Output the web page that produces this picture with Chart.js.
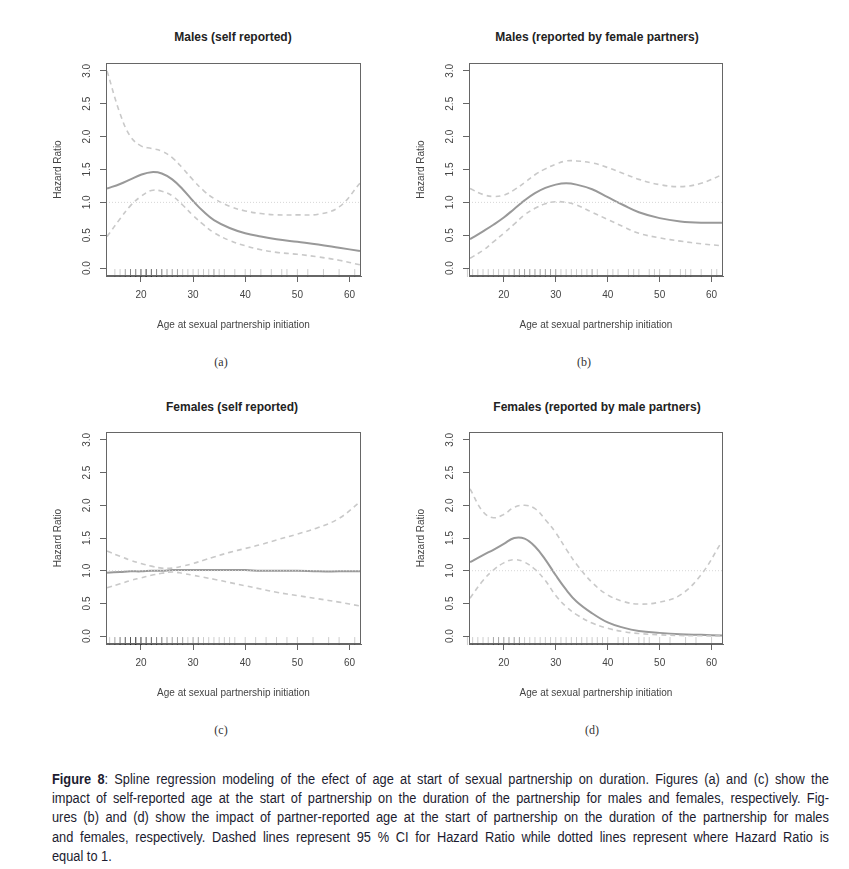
<!DOCTYPE html>
<html>
<head>
<meta charset="utf-8">
<script src="https://cdn.jsdelivr.net/npm/chart.js@4.4.1/dist/chart.umd.min.js"></script>
<style>
  body { margin: 0; background: #fff; width: 849px; height: 869px; position: relative; overflow: hidden; }
  canvas { position: absolute; }
  .ptitle { position: absolute; font: bold 12px "Liberation Sans", Arial, sans-serif; color: #222; transform: translate(-50%, -50%); white-space: nowrap; }
  .sub { position: absolute; font: 12px "Liberation Serif", "DejaVu Serif", serif; color: #333; transform: translate(-50%, -50%); }
  .caption { position: absolute; left: 52px; top: 770px; width: 850px; font: 14px "Liberation Sans", Arial, sans-serif; color: #1c1c30; line-height: 19.2px; transform: scaleX(0.914); transform-origin: 0 0; }
  .caption div { text-align: justify; text-align-last: justify; white-space: nowrap; }
  .caption div.last { text-align-last: left; }
</style>
</head>
<body>

<canvas id="graficoA"></canvas>
<canvas id="graficoB"></canvas>
<canvas id="graficoC"></canvas>
<canvas id="graficoD"></canvas>

<div class="ptitle" style="left:233px;top:37px">Males (self reported)</div>
<div class="ptitle" style="left:597px;top:37px">Males (reported by female partners)</div>
<div class="ptitle" style="left:232px;top:407px">Females (self reported)</div>
<div class="ptitle" style="left:597px;top:407px">Females (reported by male partners)</div>

<div class="sub" style="left:221px;top:362px">(a)</div>
<div class="sub" style="left:584px;top:362px">(b)</div>
<div class="sub" style="left:221px;top:730px">(c)</div>
<div class="sub" style="left:592px;top:730px">(d)</div>

<div class="caption">
  <div><b>Figure 8</b>: Spline regression modeling of the efect of age at start of sexual partnership on duration. Figures (a) and (c) show the</div>
  <div>impact of self-reported age at the start of partnership on the duration of the partnership for males and females, respectively. Fig-</div>
  <div>ures (b) and (d) show the impact of partner-reported age at the start of partnership on the duration of the partnership for males</div>
  <div>and females, respectively. Dashed lines represent 95 % CI for Hazard Ratio while dotted lines represent where Hazard Ratio is</div>
  <div class="last">equal to 1.</div>
</div>

<script>
// Idades (eixo x) comuns às quatro curvas
const idades = [13.5, 16, 18, 20, 22, 24, 26, 28, 30, 32, 34, 37, 40, 43, 46, 50, 54, 58, 62];
const xTicks = [20, 30, 40, 50, 60];
const yTicks = [0, 0.5, 1, 1.5, 2, 2.5, 3];
const nivelReferencia = 1;

// (a) Homens, auto-relato
const hrA    = [1.21, 1.28, 1.35, 1.42, 1.46, 1.44, 1.35, 1.20, 1.02, 0.86, 0.73, 0.61, 0.53, 0.48, 0.44, 0.40, 0.36, 0.31, 0.26];
const supA   = [3.00, 2.35, 2.00, 1.86, 1.82, 1.78, 1.68, 1.52, 1.34, 1.18, 1.06, 0.94, 0.87, 0.83, 0.81, 0.81, 0.82, 0.93, 1.29];
const infA   = [0.48, 0.75, 0.95, 1.09, 1.18, 1.17, 1.10, 0.96, 0.80, 0.66, 0.54, 0.42, 0.34, 0.28, 0.24, 0.21, 0.17, 0.12, 0.05];
const rugA   = [15,16,17,17,18,18,18,19,19,19,20,20,20,20,21,21,21,21,21,22,22,22,22,23,23,23,24,24,24,25,25,26,26,27,27,28,29,30,31,32,33,34,34,35,36,38,40,41,43,45,47,48,50,52,55,58,61];

// (b) Homens, relato das parceiras
const hrB    = [0.44, 0.56, 0.66, 0.77, 0.90, 1.03, 1.14, 1.22, 1.27, 1.29, 1.27, 1.20, 1.08, 0.96, 0.85, 0.76, 0.71, 0.69, 0.69];
const supB   = [1.21, 1.12, 1.09, 1.11, 1.19, 1.30, 1.42, 1.51, 1.58, 1.63, 1.63, 1.60, 1.53, 1.44, 1.35, 1.27, 1.24, 1.29, 1.42];
const infB   = [0.15, 0.27, 0.40, 0.53, 0.67, 0.81, 0.91, 0.98, 1.01, 1.00, 0.96, 0.85, 0.74, 0.63, 0.53, 0.46, 0.41, 0.37, 0.34];
const rugB   = [13,14,15,16,17,18,19,20,21,22,22,23,23,24,24,25,25,26,26,27,27,28,28,29,29,30,30,31,32,33,34,35,36,37,37,38,40,41,42,44,45,46,48,49,50,52,54,55,56,58,60,61];

// (c) Mulheres, auto-relato
const hrC    = [0.97, 0.98, 0.99, 0.99, 1.00, 1.00, 1.01, 1.01, 1.01, 1.01, 1.01, 1.01, 1.01, 1.00, 1.00, 1.00, 0.99, 0.99, 0.99];
const supC   = [1.30, 1.22, 1.16, 1.11, 1.07, 1.04, 1.04, 1.07, 1.11, 1.16, 1.21, 1.28, 1.34, 1.40, 1.47, 1.56, 1.66, 1.80, 2.05];
const infC   = [0.74, 0.80, 0.85, 0.89, 0.93, 0.96, 0.98, 0.96, 0.93, 0.90, 0.87, 0.82, 0.77, 0.72, 0.67, 0.62, 0.57, 0.52, 0.46];
const rugC   = [14,15,15,16,16,16,17,17,17,17,18,18,18,18,18,19,19,19,19,19,19,20,20,20,20,20,21,21,21,21,22,22,22,22,23,23,23,24,24,24,25,25,26,26,27,27,28,28,29,30,30,31,31,32,33,34,35,36,37,38,40,42,44,46,48,50,53,56,58,61];

// (d) Mulheres, relato dos parceiros
const hrD    = [1.13, 1.24, 1.32, 1.41, 1.50, 1.49, 1.37, 1.17, 0.93, 0.71, 0.53, 0.35, 0.21, 0.13, 0.08, 0.05, 0.03, 0.02, 0.01];
const supD   = [2.25, 1.90, 1.81, 1.86, 1.97, 2.00, 1.95, 1.78, 1.58, 1.33, 1.10, 0.82, 0.63, 0.53, 0.49, 0.52, 0.63, 0.94, 1.45];
const infD   = [0.58, 0.85, 1.01, 1.12, 1.17, 1.13, 1.02, 0.85, 0.62, 0.45, 0.33, 0.20, 0.12, 0.07, 0.04, 0.02, 0.01, 0.005, 0.00];
const rugD   = [13,14,15,16,17,18,18,19,19,20,20,21,21,22,22,23,23,24,25,26,27,28,29,30,31,32,33,34,35,36,37,38,39,40,42,43,44,46,47,48,50,52,55,57,60];

const X_MIN = 13.3, X_MAX = 62.2;
const FONTE = '"Liberation Sans", Arial, sans-serif';

// Rótulos verticais do eixo y + moldura (estilo R)
const eixoYPlugin = {
    id: 'eixoY',
    afterDraw(chart) {
        const { ctx, chartArea, scales: { y } } = chart;
        ctx.save();
        ctx.font = '10px ' + FONTE;
        ctx.fillStyle = '#444';
        ctx.textAlign = 'center';
        ctx.textBaseline = 'middle';
        yTicks.forEach(v => {
            ctx.save();
            ctx.translate(chartArea.left - 19, y.getPixelForValue(v));
            ctx.rotate(-Math.PI / 2);
            ctx.fillText(v.toFixed(1), 0, 0);
            ctx.restore();
        });
        ctx.strokeStyle = '#666';
        ctx.lineWidth = 1;
        ctx.strokeRect(chartArea.left + 0.5, chartArea.top + 0.5, chartArea.width - 1, chartArea.height - 1);
        ctx.restore();
    }
};

function pontos(ys) {
    return idades.map((x, i) => ({ x, y: ys[i] }));
}

function renderizarPainel(id, box, hr, sup, inf, rug) {
    const canvas = document.getElementById(id);
    const w = box.R - box.L + 76, h = box.B - box.T + 70;
    canvas.width = w; canvas.height = h;
    canvas.style.left = (box.L - 66) + 'px';
    canvas.style.top = (box.T - 10) + 'px';
    canvas.style.width = w + 'px';
    canvas.style.height = h + 'px';

    new Chart(canvas.getContext('2d'), {
        type: 'line',
        data: {
            datasets: [
                {
                    data: [{ x: X_MIN, y: nivelReferencia }, { x: X_MAX, y: nivelReferencia }],
                    borderColor: '#d6d6d6', borderWidth: 1, borderDash: [1, 2], pointRadius: 0
                },
                {
                    data: pontos(sup), borderColor: '#c9c9c9', borderWidth: 1.6, borderDash: [5, 4],
                    pointRadius: 0, tension: 0.4
                },
                {
                    data: pontos(inf), borderColor: '#c9c9c9', borderWidth: 1.6, borderDash: [5, 4],
                    pointRadius: 0, tension: 0.4
                },
                {
                    data: pontos(hr), borderColor: '#999', borderWidth: 2,
                    pointRadius: 0, tension: 0.4
                },
                {
                    type: 'scatter',
                    data: rug.map(x => ({ x, y: -0.075 })),
                    pointStyle: 'line', rotation: 90, radius: 4,
                    borderColor: 'rgba(0,0,0,0.2)', borderWidth: 1, clip: false
                }
            ]
        },
        options: {
            responsive: false,
            animation: false,
            layout: { padding: { top: 10, right: 10, left: 0, bottom: 0 } },
            plugins: { legend: { display: false }, tooltip: { enabled: false } },
            scales: {
                x: {
                    type: 'linear', min: X_MIN, max: X_MAX,
                    afterBuildTicks: s => { s.ticks = xTicks.map(v => ({ value: v })); },
                    afterFit: s => { s.height = 60; },
                    grid: { drawOnChartArea: false, tickLength: 6, color: '#666' },
                    border: { color: '#666' },
                    ticks: { padding: 7, color: '#444', font: { size: 10, family: FONTE }, maxRotation: 0, autoSkip: false },
                    title: {
                        display: true, text: 'Age at sexual partnership initiation', color: '#444',
                        font: { size: 10, family: FONTE }, padding: { top: 0, bottom: 5 }
                    }
                },
                y: {
                    min: -0.12, max: 3.12,
                    afterBuildTicks: s => { s.ticks = yTicks.map(v => ({ value: v })); },
                    afterFit: s => { s.width = 66; },
                    grid: { drawOnChartArea: false, tickLength: 6, color: '#666' },
                    border: { color: '#666' },
                    ticks: { display: false },
                    title: {
                        display: true, text: 'Hazard Ratio', color: '#444',
                        font: { size: 10, family: FONTE }, padding: { top: 12, bottom: 0 }
                    }
                }
            }
        },
        plugins: [eixoYPlugin]
    });
}

renderizarPainel('graficoA', { L: 106, T: 63, R: 361, B: 276 }, hrA, supA, infA, rugA);
renderizarPainel('graficoB', { L: 469, T: 63, R: 723, B: 276 }, hrB, supB, infB, rugB);
renderizarPainel('graficoC', { L: 106, T: 432, R: 361, B: 644 }, hrC, supC, infC, rugC);
renderizarPainel('graficoD', { L: 469, T: 432, R: 723, B: 644 }, hrD, supD, infD, rugD);
</script>
</body>
</html>
